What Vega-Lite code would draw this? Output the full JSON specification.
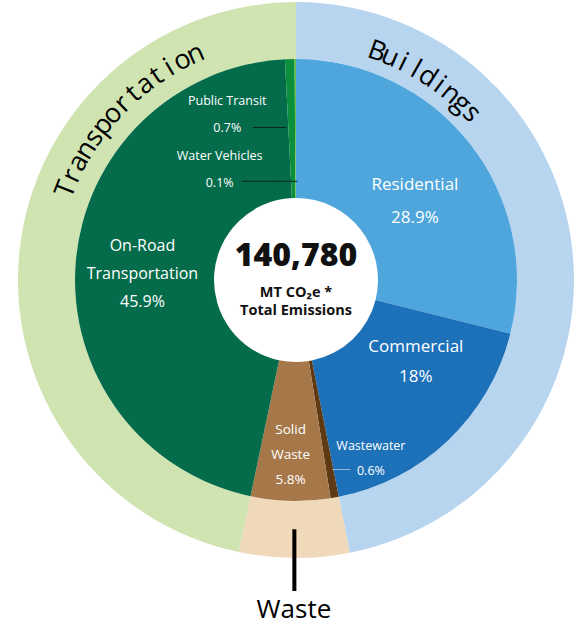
{
  "$schema": "https://vega.github.io/schema/vega-lite/v6.json",
  "width": 570,
  "height": 560,
  "autosize": "none",
  "padding": {"left": 11, "top": 0, "right": 0, "bottom": 66},
  "background": "white",
  "config": {"view": {"stroke": null}},
  "datasets": {
    "inner": [
      {"sector": "Residential", "label": "Residential\n28.9%", "value": 28.9, "ord": 1},
      {"sector": "Commercial", "label": "Commercial\n18%", "value": 18.0, "ord": 2},
      {"sector": "Wastewater", "label": "Wastewater\n0.6%", "value": 0.6, "ord": 3},
      {"sector": "Solid Waste", "label": "Solid\nWaste\n5.8%", "value": 5.8, "ord": 4},
      {"sector": "On-Road Transportation", "label": "On-Road\nTransportation\n45.9%", "value": 45.9, "ord": 5},
      {"sector": "Public Transit", "label": "Public Transit\n0.7%", "value": 0.7, "ord": 6},
      {"sector": "Water Vehicles", "label": "Water Vehicles\n0.1%", "value": 0.1, "ord": 7}
    ],
    "outer": [
      {"category": "Buildings", "value": 46.9, "ord": 1},
      {"category": "Waste", "value": 6.4, "ord": 2},
      {"category": "Transportation", "value": 46.7, "ord": 3}
    ],
    "center": [
      {"total": "140,780", "unit": "MT CO₂e *\nTotal Emissions"}
    ],
    "transportLetters": [
      {"ch": "T", "i": 0}, {"ch": "r", "i": 1}, {"ch": "a", "i": 2}, {"ch": "n", "i": 3},
      {"ch": "s", "i": 4}, {"ch": "p", "i": 5}, {"ch": "o", "i": 6}, {"ch": "r", "i": 7},
      {"ch": "t", "i": 8}, {"ch": "a", "i": 9}, {"ch": "t", "i": 10}, {"ch": "i", "i": 11},
      {"ch": "o", "i": 12}, {"ch": "n", "i": 13}
    ],
    "buildingLetters": [
      {"ch": "B", "i": 0}, {"ch": "u", "i": 1}, {"ch": "i", "i": 2}, {"ch": "l", "i": 3},
      {"ch": "d", "i": 4}, {"ch": "i", "i": 5}, {"ch": "n", "i": 6}, {"ch": "g", "i": 7},
      {"ch": "s", "i": 8}
    ]
  },
  "resolve": {"scale": {"theta": "independent", "color": "independent", "angle": "independent"}},
  "layer": [
    {
      "data": {"name": "outer"},
      "mark": {"type": "arc", "innerRadius": 221, "outerRadius": 278},
      "encoding": {
        "theta": {"field": "value", "type": "quantitative", "stack": true},
        "order": {"field": "ord", "type": "quantitative"},
        "color": {"field": "category", "type": "nominal", "legend": null,
          "scale": {"domain": ["Buildings", "Waste", "Transportation"], "range": ["#b7d5ef", "#f0d8bb", "#cfe4b1"]}}
      }
    },
    {
      "data": {"name": "inner"},
      "mark": {"type": "arc", "innerRadius": 82, "outerRadius": 221},
      "encoding": {
        "theta": {"field": "value", "type": "quantitative", "stack": true},
        "order": {"field": "ord", "type": "quantitative"},
        "color": {"field": "sector", "type": "nominal", "legend": null,
          "scale": {"domain": ["Residential", "Commercial", "Wastewater", "Solid Waste", "On-Road Transportation", "Public Transit", "Water Vehicles"],
                    "range": ["#4ea6dc", "#1d71b8", "#5e3a14", "#a67849", "#046b4b", "#0b8f3c", "#6cc04a"]}}
      }
    },
    {
      "data": {"name": "inner"},
      "mark": {"type": "text", "radius": 142, "dx": 7, "dy": -8, "color": "white", "font": "Open Sans", "fontSize": 17, "lineHeight": 33, "lineBreak": "\n", "align": "center", "baseline": "middle"},
      "encoding": {
        "theta": {"field": "value", "type": "quantitative", "stack": true},
        "order": {"field": "ord", "type": "quantitative"},
        "text": {"condition": {"test": "datum.sector === 'Residential'", "field": "label"}, "value": ""}
      }
    },
    {
      "data": {"name": "inner"},
      "mark": {"type": "text", "radius": 142, "dx": 22, "dy": -36, "color": "white", "font": "Open Sans", "fontSize": 17, "lineHeight": 30, "lineBreak": "\n", "align": "center", "baseline": "middle"},
      "encoding": {
        "theta": {"field": "value", "type": "quantitative", "stack": true},
        "order": {"field": "ord", "type": "quantitative"},
        "text": {"condition": {"test": "datum.sector === 'Commercial'", "field": "label"}, "value": ""}
      }
    },
    {
      "data": {"name": "inner"},
      "mark": {"type": "text", "radius": 188, "dx": 42, "dy": -19, "color": "white", "font": "Open Sans", "fontSize": 12.5, "lineHeight": 25, "lineBreak": "\n", "align": "center", "baseline": "middle"},
      "encoding": {
        "theta": {"field": "value", "type": "quantitative", "stack": true},
        "order": {"field": "ord", "type": "quantitative"},
        "text": {"condition": {"test": "datum.sector === 'Wastewater'", "field": "label"}, "value": ""}
      }
    },
    {
      "data": {"name": "inner"},
      "mark": {"type": "text", "radius": 175, "dx": -1, "dy": -25, "color": "white", "font": "Open Sans", "fontSize": 13.5, "lineHeight": 25, "lineBreak": "\n", "align": "center", "baseline": "middle"},
      "encoding": {
        "theta": {"field": "value", "type": "quantitative", "stack": true},
        "order": {"field": "ord", "type": "quantitative"},
        "text": {"condition": {"test": "datum.sector === 'Solid Waste'", "field": "label"}, "value": ""}
      }
    },
    {
      "data": {"name": "inner"},
      "mark": {"type": "text", "radius": 154, "dx": 0, "dy": -22, "color": "white", "font": "Open Sans", "fontSize": 16, "lineHeight": 28, "lineBreak": "\n", "align": "center", "baseline": "middle"},
      "encoding": {
        "theta": {"field": "value", "type": "quantitative", "stack": true},
        "order": {"field": "ord", "type": "quantitative"},
        "text": {"condition": {"test": "datum.sector === 'On-Road Transportation'", "field": "label"}, "value": ""}
      }
    },
    {
      "data": {"name": "inner"},
      "mark": {"type": "text", "radius": 168, "dx": -64, "dy": -11, "color": "white", "font": "Open Sans", "fontSize": 12.5, "lineHeight": 27, "lineBreak": "\n", "align": "center", "baseline": "middle"},
      "encoding": {
        "theta": {"field": "value", "type": "quantitative", "stack": true},
        "order": {"field": "ord", "type": "quantitative"},
        "text": {"condition": {"test": "datum.sector === 'Public Transit'", "field": "label"}, "value": ""}
      }
    },
    {
      "data": {"name": "inner"},
      "mark": {"type": "text", "radius": 112, "dx": -76, "dy": -12, "color": "white", "font": "Open Sans", "fontSize": 12.5, "lineHeight": 27, "lineBreak": "\n", "align": "center", "baseline": "middle"},
      "encoding": {
        "theta": {"field": "value", "type": "quantitative", "stack": true},
        "order": {"field": "ord", "type": "quantitative"},
        "text": {"condition": {"test": "datum.sector === 'Water Vehicles'", "field": "label"}, "value": ""}
      }
    },
    {
      "data": {"name": "inner"},
      "mark": {"type": "text", "radius": 152, "dx": -22, "dy": 0, "color": "#0d2419", "font": "DejaVu Sans", "fontSize": 11, "align": "center", "baseline": "middle"},
      "encoding": {
        "theta": {"field": "value", "type": "quantitative", "stack": true},
        "order": {"field": "ord", "type": "quantitative"},
        "text": {"condition": {"test": "datum.sector === 'Public Transit'", "value": "─────"}, "value": ""}
      }
    },
    {
      "data": {"name": "inner"},
      "mark": {"type": "text", "radius": 98, "dx": -26, "dy": 0, "color": "#0d2419", "font": "DejaVu Sans", "fontSize": 11.5, "align": "center", "baseline": "middle"},
      "encoding": {
        "theta": {"field": "value", "type": "quantitative", "stack": true},
        "order": {"field": "ord", "type": "quantitative"},
        "text": {"condition": {"test": "datum.sector === 'Water Vehicles'", "value": "────────"}, "value": ""}
      }
    },
    {
      "data": {"name": "inner"},
      "mark": {"type": "text", "radius": 191, "dx": 12, "dy": 2, "color": "#aac4e2", "font": "DejaVu Sans", "fontSize": 9.5, "align": "center", "baseline": "middle"},
      "encoding": {
        "theta": {"field": "value", "type": "quantitative", "stack": true},
        "order": {"field": "ord", "type": "quantitative"},
        "text": {"condition": {"test": "datum.sector === 'Wastewater'", "value": "───"}, "value": ""}
      }
    },
    {
      "data": {"name": "outer"},
      "mark": {"type": "text", "radius": 280, "dx": 0, "dy": 2, "color": "black", "font": "DejaVu Sans", "fontSize": 52, "align": "center", "baseline": "middle"},
      "encoding": {
        "theta": {"field": "value", "type": "quantitative", "stack": true},
        "order": {"field": "ord", "type": "quantitative"},
        "text": {"condition": {"test": "datum.category === 'Waste'", "value": "│"}, "value": ""}
      }
    },
    {
      "data": {"name": "outer"},
      "mark": {"type": "text", "radius": 330, "dx": 0, "dy": 0, "color": "black", "font": "Open Sans", "fontSize": 26, "align": "center", "baseline": "middle"},
      "encoding": {
        "theta": {"field": "value", "type": "quantitative", "stack": true},
        "order": {"field": "ord", "type": "quantitative"},
        "text": {"condition": {"test": "datum.category === 'Waste'", "field": "category"}, "value": ""}
      }
    },
    {
      "data": {"name": "center"},
      "mark": {"type": "text", "dy": -24, "color": "#111111", "font": "Open Sans", "fontWeight": 800, "fontSize": 32, "align": "center", "baseline": "middle"},
      "encoding": {"text": {"field": "total", "type": "nominal"}}
    },
    {
      "data": {"name": "center"},
      "mark": {"type": "text", "dy": 13, "color": "#111111", "font": "Open Sans", "fontWeight": "bold", "fontSize": 14.5, "lineHeight": 18, "lineBreak": "\n", "align": "center", "baseline": "middle"},
      "encoding": {"text": {"field": "unit", "type": "nominal"}}
    },
    {
      "data": {"name": "transportLetters"},
      "mark": {"type": "text", "radius": 247, "color": "black", "font": "Open Sans", "fontSize": 27, "align": "center", "baseline": "middle"},
      "encoding": {
        "theta": {"field": "i", "type": "quantitative", "stack": null, "scale": {"domain": [0, 13], "range": [5.0877, 5.8643]}},
        "angle": {"field": "i", "type": "quantitative", "scale": {"domain": [0, 13], "range": [291.5, 336]}},
        "text": {"field": "ch", "type": "nominal"}
      }
    },
    {
      "data": {"name": "buildingLetters"},
      "mark": {"type": "text", "radius": 242, "color": "black", "font": "Open Sans", "fontSize": 27, "align": "center", "baseline": "middle"},
      "encoding": {
        "theta": {"field": "i", "type": "quantitative", "stack": null, "scale": {"domain": [0, 8], "range": [0.3403, 0.8116]}},
        "angle": {"field": "i", "type": "quantitative", "scale": {"domain": [0, 8], "range": [19.5, 46.5]}},
        "text": {"field": "ch", "type": "nominal"}
      }
    }
  ]
}
